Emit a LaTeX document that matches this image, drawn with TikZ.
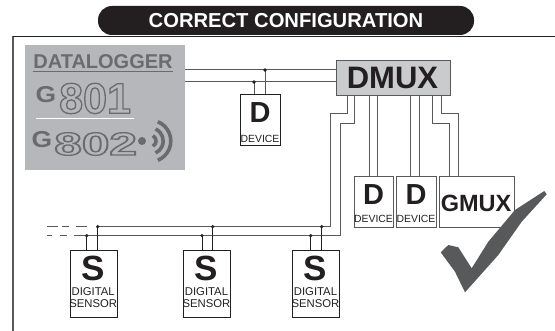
\documentclass[tikz,border=0pt]{standalone}
\usepackage{fontspec}
\setmainfont{Liberation Sans}
\definecolor{ink}{HTML}{231F20}
\definecolor{logo}{HTML}{6A6B6E}
\definecolor{panel}{HTML}{B5B7BA}
\definecolor{dmuxfill}{HTML}{C9CBCD}
\definecolor{wirec}{HTML}{58595B}
\newcommand{\fs}[1]{\fontsize{#1}{#1}\selectfont}
\newcommand{\outl}[1]{\special{pdf:code 1 Tr 1.3 w}#1\special{pdf:code 0 Tr}}
\tikzset{
  x=1pt,y=-1pt,
  wire/.style={draw=wirec,line width=1pt},
  boxn/.style={draw=wirec,fill=white,line width=0.9pt,inner sep=0pt,anchor=north west},
  dotn/.style={circle,fill=ink,inner sep=0pt,minimum size=3.6pt},
  big/.style={font=\bfseries\fs{#1},text=ink,inner sep=0pt},
  small/.style={font=\fs{11},text=ink,inner sep=0pt,align=center},
  lg/.style={font=\bfseries\fs{#1},text=logo,inner sep=0pt},
  wave/.style={draw=logo,line width=3.6pt}
}
\begin{document}
\begin{tikzpicture}
\useasboundingbox (0,0) rectangle (555,331);
\fill[white] (0,0) rectangle (555,331);
% frame
\draw[draw=wirec,line width=1.5pt] (13,331) -- (13,36);
\draw[draw=ink,line width=0.9pt] (12.5,36) -- (555,36);
% title
\node[fill=ink,text=white,font=\bfseries\fs{20.2},rounded corners=14pt,minimum width=376pt,minimum height=29pt,inner sep=0pt] (title) at (286,20.5) {CORRECT CONFIGURATION};
% datalogger
\node[fill=panel,minimum width=160pt,minimum height=125pt,inner sep=0pt,anchor=north west] (dl) at (25,45) {};
\node[lg=20] (dltext) at (103,61.5) {DATALOGGER};
\draw[draw=logo,line width=1pt] (32.5,72) -- (173,72);
\node[lg=23,anchor=west,xscale=1.15] (g1) at (35.5,95) {G};
\node[lg=43,anchor=west] (n1) at (59,98.5) {\outl{801}};
\draw[draw=white,line width=1pt] (36,118.5) -- (134,118.5);
\node[lg=23,anchor=west,xscale=1.15] (g2) at (31.5,140) {G};
\node[lg=32,anchor=west,xscale=1.55] (n2) at (54,144) {\outl{802}};
\node[circle,fill=logo,minimum size=8pt,inner sep=0pt] (wdot) at (142,141) {};
\coordinate (wc) at (150,141);
\draw[wave] (wc) ++(-62:6) arc[start angle=-62,end angle=62,radius=6];
\draw[wave] (wc) ++(-65:13.2) arc[start angle=-65,end angle=65,radius=13.2];
\draw[wave] (wc) ++(-68:20.8) arc[start angle=-68,end angle=68,radius=20.8];
% boxes
\node[boxn,draw=wirec,fill=dmuxfill,line width=1.2pt,minimum width=113.5pt,minimum height=35pt] (dmux) at (336,60) {};
\node[big=31] (dmuxt) at (392.5,77.5) {DMUX};
\node[boxn,draw=ink,minimum width=40pt,minimum height=51pt] (d0) at (240,94.5) {};
\node[boxn,minimum width=39.5pt,minimum height=51pt] (d1) at (353.7,176) {};
\node[boxn,minimum width=39.5pt,minimum height=51pt] (d2) at (396.4,176) {};
\node[boxn,minimum width=74.5pt,minimum height=51pt] (gm) at (439.3,176) {};
\node[big=29] (d0t) at (260,113) {D};
\node[small,font=\fs{10.4}] (d0l) at (260,138.5) {DEVICE};
\node[big=29] (d1t) at (373.5,195) {D};
\node[small,font=\fs{10.4}] (d1l) at (373.5,219) {DEVICE};
\node[big=29] (d2t) at (416,195) {D};
\node[small,font=\fs{10.4}] (d2l) at (416,219) {DEVICE};
\node[big=23.5] (gmt) at (476,203) {GMUX};
\foreach \n/\x in {s1/70,s2/183.3,s3/292.3}{
  \node[boxn,draw=ink,minimum width=46.5pt,minimum height=67pt] (\n) at (\x,250.3) {};
  \node[big=35] (\n t) at (\x+23.2,268.5) {S};
  \node[small,font=\fontsize{11.3}{12.5}\selectfont] (\n l) at (\x+23.2,297.5) {DIGITAL\\SENSOR};
}
% junctions
\coordinate (upper) at (0,70);
\coordinate (lower) at (0,82);
\coordinate (j0a) at (265,70);
\coordinate (j0b) at (254,82);
\coordinate (j1a) at (97.7,226.7);
\coordinate (j1b) at (86.7,235.7);
\coordinate (j2a) at (212.7,226.7);
\coordinate (j2b) at (202,235.7);
\coordinate (j3a) at (321.7,226.7);
\coordinate (j3b) at (310.7,235.7);
% datalogger to dmux
\draw[wire] (dl.east |- upper) -- (dmux.west |- upper);
\draw[wire] (dl.east |- lower) -- (dmux.west |- lower);
\draw[wire] (j0a) -- (d0.north -| j0a);
\draw[wire] (j0b) -- (d0.north -| j0b);
% sensor bus
\coordinate (a1) at (347.7,114);
\coordinate (a2) at (330.7,114);
\coordinate (a3) at (330.7,226.7);
\coordinate (b1) at (354.3,124);
\coordinate (b2) at (340.3,124);
\coordinate (b3) at (340.3,235.7);
\draw[wire] (dmux.south -| a1) -- (a1) -- (a2) -- (a3) -- (j1a);
\draw[wire] (dmux.south -| b1) -- (b1) -- (b2) -- (b3) -- (j1b);
\coordinate (fa) at (47,226.7);
\coordinate (fb) at (47,235.7);
\draw[wire,dash pattern=on 11pt off 4pt on 7pt off 7pt on 11pt off 20pt] (fa) -- (j1a);
\draw[wire,dash pattern=on 5pt off 8pt on 7pt off 7pt on 11pt off 20pt] (fb) -- (j1b);
\foreach \a/\b/\s in {j1a/j1b/s1,j2a/j2b/s2,j3a/j3b/s3}{
  \draw[wire,draw=ink] (\a) -- (\s.north -| \a);
  \draw[wire,draw=ink] (\b) -- (\s.north -| \b);
}
% device wires
\foreach \x/\t in {369/d1,377.7/d1,410.7/d2,419.3/d2}{
  \coordinate (w) at (\x,0);
  \draw[wire] (dmux.south -| w) -- (\t.north -| w);
}
\coordinate (c1) at (432.7,124);
\coordinate (c2) at (449.7,124);
\coordinate (e1) at (441,114);
\coordinate (e2) at (458.7,114);
\draw[wire] (dmux.south -| c1) -- (c1) -- (c2) -- (gm.north -| c2);
\draw[wire] (dmux.south -| e1) -- (e1) -- (e2) -- (gm.north -| e2);
% dots on top of the wires
\foreach \j in {j0a,j0b,j1a,j1b,j2a,j2b,j3a,j3b}{
  \node[dotn] (dot\j) at (\j) {};
}
% check mark
\fill[wirec] (440.7,252.3) -- (448.3,245) -- (458.3,247.3) -- (471.7,268.3) -- (488.3,241.7) -- (515,210) -- (544.3,191) -- (546.7,194.3) -- (521.7,221.7) -- (498.3,255) -- (465,292.3) -- (455,271.7) -- cycle;
\end{tikzpicture}
\end{document}
